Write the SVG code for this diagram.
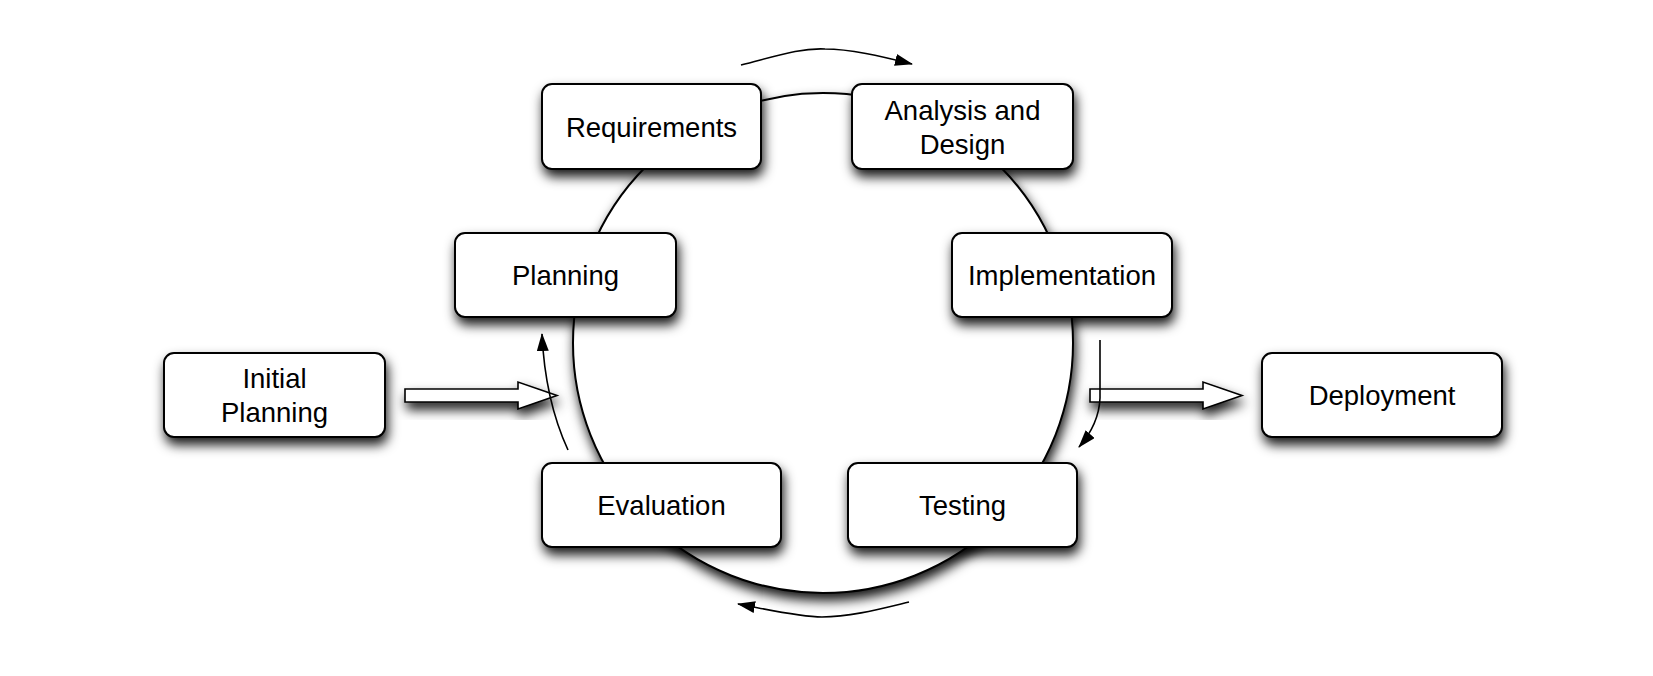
<svg xmlns="http://www.w3.org/2000/svg" width="1653" height="676" viewBox="0 0 1653 676">
<defs>
<filter id="sh" x="-20%" y="-20%" width="140%" height="160%">
<feDropShadow dx="2" dy="7" stdDeviation="6" flood-color="#000" flood-opacity="0.9"/>
</filter>
<marker id="ah" viewBox="0 0 18 12" refX="17" refY="6" markerWidth="18" markerHeight="12" markerUnits="userSpaceOnUse" orient="auto">
<path d="M0,0 L18,6 L0,12 Z" fill="#000"/>
</marker>
<style>
.box{fill:#fff;stroke:#000;stroke-width:2;filter:url(#sh)}
.lbl{font-family:"Liberation Sans",Arial,sans-serif;font-size:27.5px;fill:#000;text-anchor:middle}
.thin{fill:none;stroke:#000;stroke-width:1.6;marker-end:url(#ah)}
.blk{fill:#fff;stroke:#000;stroke-width:1.6;filter:url(#sh)}
</style>
</defs>
<rect width="1653" height="676" fill="#fff"/>
<circle id="cycle" cx="823" cy="343" r="250" fill="#fff" stroke="#000" stroke-width="2" filter="url(#sh)"/>
<g id="requirements"><rect class="box" x="542" y="84" width="219" height="85" rx="10"/><text class="lbl" x="651.5" y="137">Requirements</text></g>
<g id="analysis"><rect class="box" x="852" y="84" width="221" height="85" rx="10"/><text class="lbl" x="962.5" y="120">Analysis and</text><text class="lbl" x="962.5" y="154">Design</text></g>
<g id="planning"><rect class="box" x="455" y="233" width="221" height="84" rx="10"/><text class="lbl" x="565.5" y="285">Planning</text></g>
<g id="implementation"><rect class="box" x="952" y="233" width="220" height="84" rx="10"/><text class="lbl" x="1062" y="285">Implementation</text></g>
<g id="initial"><rect class="box" x="164" y="353" width="221" height="84" rx="10"/><text class="lbl" x="274.5" y="388">Initial</text><text class="lbl" x="274.5" y="422">Planning</text></g>
<g id="deployment"><rect class="box" x="1262" y="353" width="240" height="84" rx="10"/><text class="lbl" x="1382" y="405">Deployment</text></g>
<g id="evaluation"><rect class="box" x="542" y="463" width="239" height="84" rx="10"/><text class="lbl" x="661.5" y="515">Evaluation</text></g>
<g id="testing"><rect class="box" x="848" y="463" width="229" height="84" rx="10"/><text class="lbl" x="962.5" y="515">Testing</text></g>
<g id="connectors">
<path class="blk" d="M405,389 L518,389 L518,382 L557,395.5 L518,409 L518,402 L405,402 Z"/>
<path class="blk" d="M1090,389 L1203,389 L1203,382 L1242,395.5 L1203,409 L1203,402 L1090,402 Z"/>
<path class="thin" d="M741,65 C780,55 800,48 825,49 C850,49 880,56 912,64"/>
<path class="thin" d="M909,602 C880,609 850,617 822,617 C800,617 770,610 738,604"/>
<path class="thin" d="M568,450 Q545,400 542,334"/>
<path class="thin" d="M1100,340 L1100,398 Q1099,424 1079,447"/>
</g>
</svg>
